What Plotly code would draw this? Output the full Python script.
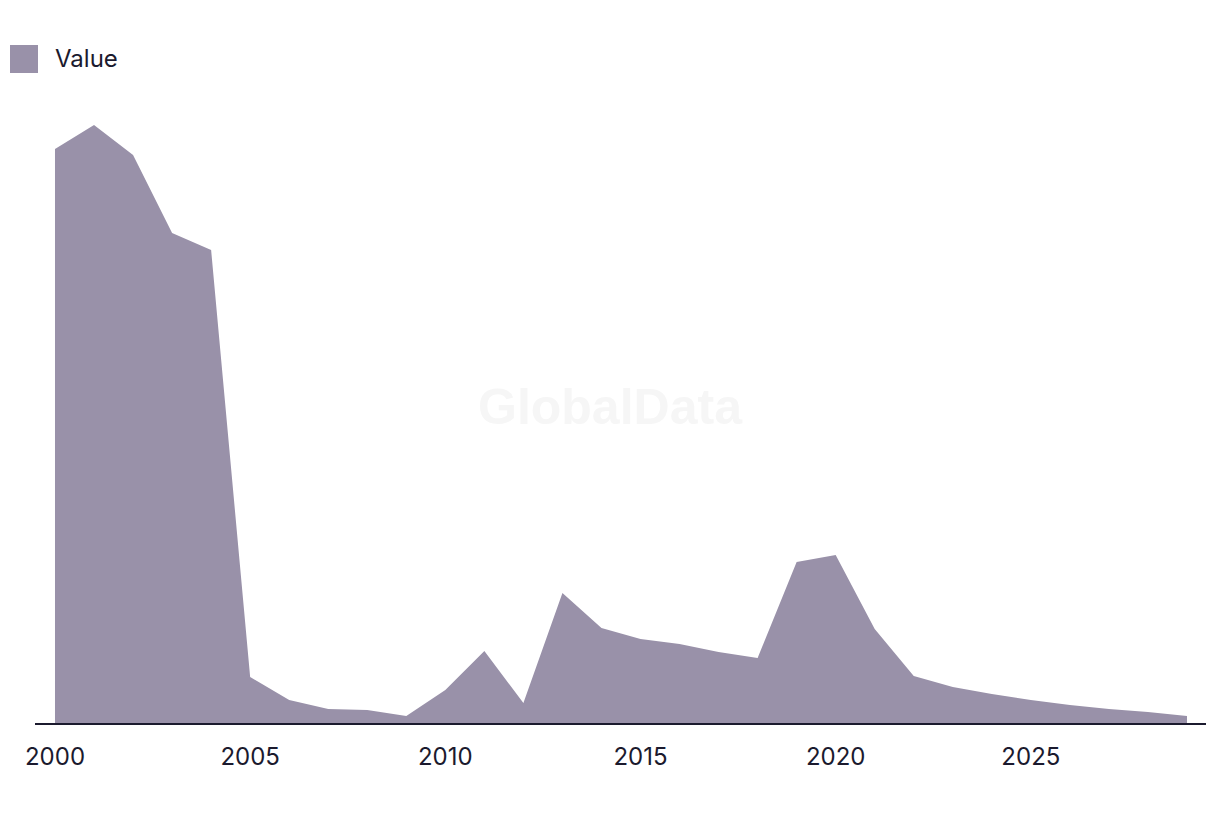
import plotly.graph_objects as go

years = list(range(2000, 2030))
values = [574, 598, 568, 490, 473, 46, 23, 14, 13, 7,
          33, 72, 20, 130, 95, 84, 79, 71, 65, 161,
          168, 94, 47, 36, 29, 23, 18, 14, 11, 7]
series_name = "Value"
tick_vals = [2000, 2005, 2010, 2015, 2020, 2025]
tick_text = ["2000", "2005", "2010", "2015", "2020", "2025"]

fill_color = "#9991a9"
text_color = "#1b1a2e"

fig = go.Figure()
fig.add_trace(go.Scatter(
    x=years, y=values, name=series_name, mode="lines",
    fill="tozeroy", fillcolor=fill_color,
    line=dict(width=0, color=fill_color), showlegend=False,
    hoverinfo="x+y"))

fig.update_layout(
    width=1220, height=814,
    margin=dict(l=35, r=14, t=100, b=91),
    paper_bgcolor="white", plot_bgcolor="white",
    font=dict(family="Inter, Roboto, sans-serif", color=text_color, size=22),
    xaxis=dict(range=[1999.488, 2029.487], tickvals=tick_vals, ticktext=tick_text,
               showgrid=False, zeroline=False, showline=True, linecolor=text_color,
               linewidth=2, ticks="outside", ticklen=11, tickcolor="rgba(0,0,0,0)",
               tickfont=dict(size=24, color=text_color)),
    yaxis=dict(range=[0, 623], visible=False, showgrid=False, zeroline=False),
    shapes=[dict(type="rect", xref="paper", yref="paper",
                 x0=-25/1171, x1=3/1171, y0=(814-91-73)/623, y1=(814-91-45)/623,
                 fillcolor=fill_color, line=dict(width=0), layer="above")],
    annotations=[
        dict(text=series_name, xref="paper", yref="paper", x=18/1171,
             y=(814-91-58)/623, xanchor="left", yanchor="middle", showarrow=False,
             font=dict(size=24, color=text_color)),
        dict(text="<b>GlobalData</b>", xref="paper", yref="paper", x=(610-35)/1171,
             y=(814-91-407)/623, xanchor="center", yanchor="middle", showarrow=False,
             font=dict(family="Liberation Sans, Arial, sans-serif", size=50, color="#f6f6f6")),
    ],
)

fig.write_html("out.html")
